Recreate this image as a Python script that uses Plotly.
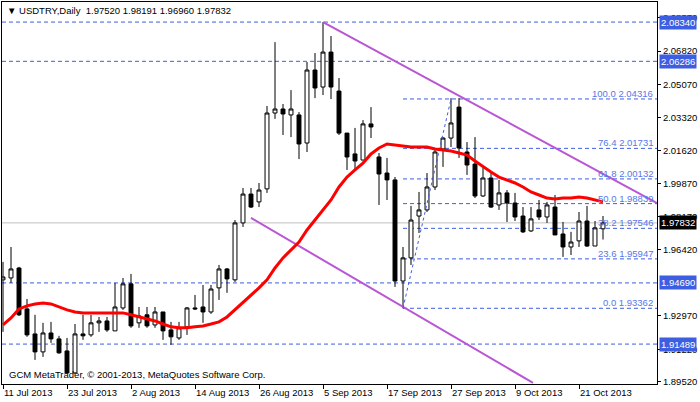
import plotly.graph_objects as go

# daily bars, index 0 = 11 Jul 2013 (weekdays only)
opens = [1.9485, 1.9495, 1.9547, 1.9333, 1.9202, 1.9108, 1.9207, 1.9176, 1.9113, 1.8998,
         1.9202, 1.9197, 1.9260, 1.9270, 1.9218, 1.9338, 1.9464, 1.9260, 1.9302, 1.9249,
         1.9317, 1.9223, 1.9181, 1.9239, 1.9338, 1.9343, 1.9317, 1.9443, 1.9542, 1.9485,
         1.9783, 1.9934, 1.9893, 1.9961, 2.0358, 2.0379, 2.0348, 2.0348, 2.0201, 2.0583,
         2.0494, 2.0677, 2.0473, 2.0253, 2.0144, 2.0112, 2.0301, 2.0128, 2.0044, 2.0008,
         1.9479, 1.9600, 1.9819, 1.9851, 1.9971, 2.0170, 2.0227, 2.0389, 2.0154, 2.0091,
         1.9924, 2.0018, 1.9877, 1.9940, 1.9887, 1.9819, 1.9741, 1.9851, 1.9814, 1.9866,
         1.9725, 1.9657, 1.9689, 1.9793, 1.9662, 1.97520]
highs = [1.9579, 1.9657, 1.9553, 1.9385, 1.9302, 1.9260, 1.9265, 1.9192, 1.9181, 1.9254,
         1.9302, 1.9302, 1.9291, 1.9291, 1.9469, 1.9495, 1.9516, 1.9343, 1.9343, 1.9343,
         1.9317, 1.9265, 1.9265, 1.9343, 1.9406, 1.9458, 1.9458, 1.9563, 1.9547, 1.9798,
         1.9966, 1.9966, 1.9992, 2.0395, 2.0729, 2.0405, 2.0478, 2.0363, 2.0625, 2.0672,
         2.0834, 2.0761, 2.0541, 2.0253, 2.0280, 2.0321, 2.0389, 2.0149, 2.0123, 2.0023,
         1.9657, 1.9872, 1.9945, 2.0044, 2.0175, 2.0232, 2.0436, 2.0436, 2.0206, 2.0232,
         2.0076, 2.0044, 2.0008, 1.9955, 1.9940, 1.9866, 1.9866, 1.9903, 1.9893, 1.9929,
         1.9788, 1.9736, 1.9840, 1.9872, 1.9793, 1.98191]
lows = [1.9213, 1.9469, 1.9296, 1.9187, 1.9066, 1.9082, 1.9155, 1.9098, 1.8993, 1.8993,
        1.9171, 1.9187, 1.9213, 1.9213, 1.9218, 1.9328, 1.9234, 1.9234, 1.9234, 1.9234,
        1.9171, 1.9145, 1.9171, 1.9197, 1.9328, 1.9260, 1.9307, 1.9380, 1.9417, 1.9474,
        1.9762, 1.9861, 1.9866, 1.9940, 2.0327, 2.0243, 2.0232, 2.0117, 2.0154, 2.0436,
        2.0452, 2.0431, 2.0243, 2.0060, 2.0060, 2.0112, 2.0227, 1.9877, 1.9903, 1.9448,
        1.93362, 1.9563, 1.9730, 1.9840, 1.9955, 2.0076, 2.0180, 2.0123, 2.0034, 1.9913,
        1.9919, 1.9861, 1.9851, 1.9788, 1.9793, 1.9730, 1.9736, 1.9798, 1.9783, 1.9720,
        1.9605, 1.9615, 1.9657, 1.9657, 1.9662, 1.96960]
closes = [1.9500, 1.9542, 1.9302, 1.9197, 1.9108, 1.9207, 1.9176, 1.9103, 1.8998, 1.9202,
          1.9192, 1.9260, 1.9270, 1.9223, 1.9343, 1.9464, 1.9244, 1.9296, 1.9244, 1.9317,
          1.9218, 1.9187, 1.9234, 1.9338, 1.9333, 1.9317, 1.9437, 1.9542, 1.9490, 1.9783,
          1.9934, 1.9866, 1.9955, 2.0358, 2.0379, 2.0353, 2.0379, 2.0196, 2.0583, 2.0489,
          2.0677, 2.0494, 2.0253, 2.0128, 2.0107, 2.0301, 2.0285, 2.0039, 2.0008, 1.9479,
          1.9600, 1.9798, 1.9851, 1.9971, 2.0154, 2.0227, 2.0306, 2.0175, 2.0086, 1.9924,
          2.0018, 1.9866, 1.9940, 1.9887, 1.9814, 1.9736, 1.9804, 1.9814, 1.9877, 1.9720,
          1.9657, 1.9683, 1.9793, 1.9662, 1.9757, 1.97832]
ma = [1.9249, 1.9286, 1.9333, 1.9349, 1.9359, 1.9364, 1.9359, 1.9343, 1.9328, 1.9317,
      1.9312, 1.9312, 1.9312, 1.9312, 1.9312, 1.9312, 1.9302, 1.9291, 1.9281, 1.9270,
      1.9254, 1.9239, 1.9234, 1.9234, 1.9239, 1.9244, 1.9254, 1.9265, 1.9291, 1.9328,
      1.9370, 1.9406, 1.9443, 1.9485, 1.9547, 1.9600, 1.9641, 1.9683, 1.9746, 1.9798,
      1.9851, 1.9903, 1.9971, 2.0023, 2.0060, 2.0096, 2.0144, 2.0175, 2.0196, 2.0191,
      2.0185, 2.0180, 2.0180, 2.0180, 2.0170, 2.0164, 2.0159, 2.0149, 2.0138, 2.0107,
      2.0076, 2.0049, 2.0023, 2.0008, 1.9992, 1.9971, 1.9945, 1.9929, 1.9913, 1.9908,
      1.9913, 1.9913, 1.9919, 1.9913, 1.9903, 1.9893]

date_ticks = [0, 8, 16, 24, 32, 40, 48, 56, 64, 72]
date_labels = ["11 Jul 2013", "23 Jul 2013", "2 Aug 2013", "14 Aug 2013", "26 Aug 2013",
               "5 Sep 2013", "17 Sep 2013", "27 Sep 2013", "9 Oct 2013", "21 Oct 2013"]
price_ticks = [2.08570, 2.06820, 2.05070, 2.03320, 2.01620, 1.99870, 1.98170,
               1.96420, 1.92970, 1.91220, 1.89520]

level_lines = [2.08340, 2.06286, 1.94690, 1.91489]
fib_pct = ["100.0", "76.4", "61.8", "50.0", "38.2", "23.6", "0.0"]
fib_vals = [2.04316, 2.01731, 2.00132, 1.98839, 1.97546, 1.95947, 1.93362]
fib_start, fib_end = 50, 56
trend_upper = ([40, 81.75], [2.08340, 1.98870])
trend_lower = ([31, 66.25], [1.98090, 1.89460])
last_price = 1.97832

BLUE = "#3D5EE0"
XMAX = 81.75
FONT = "Liberation Sans"
FS = 9.5

x = list(range(len(closes)))
fig = go.Figure()

fig.add_trace(go.Scatter(x=trend_upper[0], y=trend_upper[1], mode="lines",
                         line=dict(color="#BA55D3", width=2), hoverinfo="skip"))
fig.add_trace(go.Scatter(x=trend_lower[0], y=trend_lower[1], mode="lines",
                         line=dict(color="#BA55D3", width=2), hoverinfo="skip"))
fig.add_trace(go.Scatter(x=[fib_start, fib_end], y=[fib_vals[-1], fib_vals[0]], mode="lines",
                         line=dict(color=BLUE, width=1, dash="dot"), hoverinfo="skip"))
fig.add_trace(go.Candlestick(
    x=x, open=opens, high=highs, low=lows, close=closes, whiskerwidth=0,
    increasing=dict(line=dict(color="black", width=1), fillcolor="white"),
    decreasing=dict(line=dict(color="black", width=1), fillcolor="black"),
))
fig.add_trace(go.Scatter(x=x, y=ma, mode="lines", line=dict(color="#FF0000", width=3),
                         hoverinfo="skip"))

shapes = []
annos = []
for v in level_lines:
    shapes.append(dict(type="line", xref="paper", x0=0, x1=1, yref="y", y0=v, y1=v,
                       line=dict(color=BLUE, width=1, dash="4px,3px"), layer="below"))
    annos.append(dict(xref="paper", x=1.003, y=v, yref="y", text=f"{v:.5f}", showarrow=False,
                      xanchor="left", bgcolor=BLUE, font=dict(color="white", size=FS, family=FONT),
                      borderpad=1))
for p, v in zip(fib_pct, fib_vals):
    shapes.append(dict(type="line", xref="x", x0=fib_start, x1=XMAX, yref="y", y0=v, y1=v,
                       line=dict(color=BLUE, width=1, dash="4px,3px"), layer="below"))
    annos.append(dict(x=XMAX - 0.2, y=v, text=f"{p} {v:.5f}", showarrow=False, xanchor="right",
                      yanchor="bottom", yshift=-2, font=dict(color="#5577E8", size=FS, family=FONT)))
shapes.append(dict(type="line", xref="paper", x0=0, x1=1, yref="y", y0=last_price, y1=last_price,
                   line=dict(color="#C0C0C0", width=1), layer="below"))
annos.append(dict(xref="paper", x=1.003, y=last_price, yref="y", text=f"{last_price:.5f}",
                  showarrow=False, xanchor="left", bgcolor="black",
                  font=dict(color="white", size=FS, family=FONT), borderpad=1))
annos.append(dict(xref="paper", yref="paper", x=0.004, y=0.998, xanchor="left", yanchor="top",
                  showarrow=False, text="▼ USDTRY,Daily  1.97520 1.98191 1.96960 1.97832",
                  font=dict(size=FS, family=FONT, color="black")))
annos.append(dict(xref="paper", yref="paper", x=0.008, y=0.005, xanchor="left", yanchor="bottom",
                  showarrow=False, text="GCM MetaTrader, © 2001-2013, MetaQuotes Software Corp.",
                  font=dict(size=FS, family=FONT, color="black")))

fig.update_layout(
    width=700, height=402, margin=dict(l=2, r=43, t=2, b=18, autoexpand=False),
    paper_bgcolor="white", plot_bgcolor="white", showlegend=False,
    shapes=shapes, annotations=annos, font=dict(family=FONT, size=FS, color="black"),
    xaxis=dict(range=[-0.125, XMAX], tickvals=date_ticks, ticktext=date_labels, tickangle=0,
               ticks="outside", ticklen=4, tickcolor="black", showgrid=False, zeroline=False,
               ticklabelposition="outside right", rangeslider=dict(visible=False),
               showline=True, linecolor="black", mirror=True, automargin=False),
    yaxis=dict(range=[1.8940, 2.0939], side="right", tickvals=price_ticks,
               ticktext=[f"{v:.5f}" for v in price_ticks], ticks="outside", ticklen=3,
               tickcolor="black", showgrid=False, zeroline=False, automargin=False,
               showline=True, linecolor="black", mirror=True),
)

fig.write_html("out.html", config={"displayModeBar": False},
               post_script="document.body.style.margin='0';document.body.style.overflow='hidden';")
